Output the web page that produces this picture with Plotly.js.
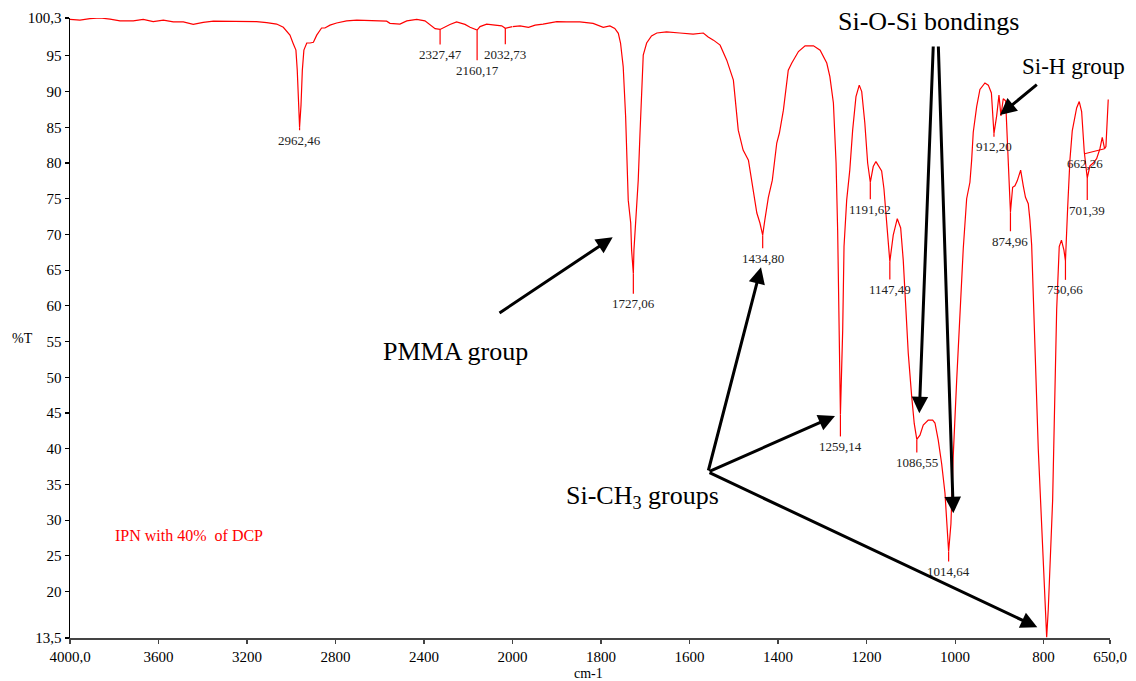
<!DOCTYPE html>
<html>
<head>
<meta charset="utf-8">
<script src="https://cdn.plot.ly/plotly-3.0.1.min.js"></script>
<style>
  html, body { margin: 0; padding: 0; background: #fff; }
  #chart { width: 1136px; height: 681px; }
</style>
</head>
<body>
<div id="chart"></div>
<script>
// FTIR transmittance spectrum: wavenumber (cm-1, descending) and %T
const wavenumber = [
  4000, 3955, 3910, 3864, 3819, 3774, 3714, 3669, 3624, 3578, 3533, 3488, 3443, 3398, 3352, 3307,
  3262, 3217, 3157, 3111, 3066, 3036, 3006, 2991, 2979, 2973, 2967, 2962.46, 2956, 2950, 2943, 2930,
  2915, 2900, 2885, 2863, 2848, 2825, 2795, 2750, 2704, 2659, 2614, 2569, 2554, 2509, 2478, 2433,
  2396, 2373, 2350, 2327.47, 2305, 2283, 2253, 2215, 2192, 2160.17, 2147, 2117, 2079, 2049, 2032.73, 2004,
  2000, 1983, 1964, 1949, 1931, 1915, 1900, 1878, 1848, 1818, 1795, 1780, 1769, 1761, 1756, 1750,
  1744.5, 1738.6, 1733, 1731, 1727.06, 1725.7, 1721, 1716, 1712, 1704.7, 1697, 1686, 1674, 1652, 1622, 1592,
  1569, 1558, 1546, 1531, 1516, 1501, 1490, 1479, 1467, 1460, 1448, 1441, 1437, 1434.80, 1430, 1422,
  1413, 1403, 1397, 1388, 1377, 1369, 1354, 1339, 1320, 1305, 1290, 1283, 1275, 1269, 1265.4, 1262.5,
  1259.14, 1254, 1251, 1245, 1238, 1231.5, 1224, 1216.6, 1211, 1204, 1197.6, 1191.62, 1185, 1178.9, 1166, 1160.8,
  1154.7, 1147.49, 1139.8, 1130.7, 1123, 1117.2, 1111.1, 1105.9, 1098.2, 1092.3, 1086.55, 1079.4, 1072, 1060.7, 1050.7, 1045.5,
  1038.1, 1030.4, 1022.9, 1016.8, 1014.64, 1009.4, 1004.2, 996.5, 989.1, 981.6, 973.9, 966.5, 962.6, 959, 951.3, 943.9,
  932.6, 925, 918, 915, 912.20, 906.1, 900.9, 896.4, 891.2, 885.8, 881.3, 878.3, 874.96, 870, 864.8, 859.6,
  851.9, 846, 841, 834.7, 830.9, 827, 823.4, 819.6, 812.1, 806, 800.8, 797, 793.1, 789.5, 785.7, 779.6,
  776, 773.3, 770.5, 764.7, 759.7, 754.1, 750.66, 745.7, 740.5, 735.3, 725.4, 719.5, 714.1, 708.2, 701.39, 695.3,
  687.9, 680.2, 672.7, 667.5, 662.26, 659.2, 654
];
const transmittance = [
  100.1, 100.0, 100.2, 100.3, 100.15, 99.9, 99.9, 100.1, 99.8, 100.0, 99.75, 99.75, 99.4, 99.7, 99.85, 99.85,
  99.75, 99.8, 99.8, 99.65, 99.45, 99.0, 97.9, 96.7, 95.8, 93.0, 88.5, 85.0, 88.1, 93.0, 95.8, 96.8,
  96.8, 96.9, 97.9, 98.9, 98.9, 99.3, 99.6, 99.9, 100.0, 99.95, 100.0, 99.85, 99.55, 99.45, 99.9, 100.1,
  99.9, 99.3, 98.8, 98.7, 99.1, 99.4, 99.75, 99.4, 99.0, 98.6, 99.1, 99.45, 99.3, 99.2, 98.85, 99.1,
  99.1, 99.2, 99.0, 99.3, 99.45, 99.65, 99.8, 99.75, 99.75, 99.55, 99.0, 99.2, 98.85, 98.15, 96.8, 93.5,
  86.5, 74.8, 71.6, 67.8, 64.5, 67.8, 73.0, 77.6, 84.2, 95.1, 96.8, 97.8, 98.2, 98.35, 98.2, 98.05,
  98.2, 97.65, 97.2, 96.5, 94.4, 91.6, 84.6, 81.8, 80.4, 77.6, 73.0, 71.6, 70.6, 69.9, 72.0, 75.2,
  77.6, 82.8, 84.2, 87.4, 93.0, 94.0, 95.6, 96.4, 96.4, 95.8, 94.0, 92.1, 88.4, 80.0, 70.6, 56.6,
  44.8, 56.6, 68.3, 74.8, 79.0, 84.6, 89.3, 90.9, 90.0, 85.6, 80.0, 77.3, 79.5, 80.2, 78.9, 76.4,
  71.9, 66.2, 69.9, 72.2, 70.9, 66.4, 59.4, 53.4, 47.4, 43.5, 41.3, 41.9, 43.3, 44.0, 44.0, 43.6,
  41.2, 37.9, 33.8, 28.2, 25.6, 29.5, 39.0, 49.5, 59.0, 68.0, 75.0, 77.3, 80.4, 84.3, 87.9, 90.3,
  91.2, 90.9, 89.8, 87.5, 84.1, 86.6, 89.5, 86.6, 89.0, 88.7, 81.5, 77.3, 73.1, 76.6, 76.8, 77.5,
  79.0, 76.8, 75.2, 74.3, 72.0, 68.5, 61.3, 52.7, 40.0, 31.5, 24.4, 18.5, 13.6, 17.5, 24.4, 32.8,
  43.5, 51.5, 59.5, 68.3, 69.2, 67.8, 66.3, 73.7, 80.5, 84.5, 87.7, 88.6, 87.2, 81.6, 77.9, 79.6,
  80.0, 80.6, 82.0, 83.6, 82.0, 82.3, 88.9
];

// Labelled absorption peaks (their %T is taken from the spectrum itself)
const peakWavenumber = [2962.46, 2327.47, 2160.17, 2032.73, 1727.06, 1434.80, 1259.14, 1191.62,
                        1147.49, 1086.55, 1014.64, 912.20, 874.96, 750.66, 701.39, 662.26];
const peakLabels = ['2962,46', '2327,47', '2160,17', '2032,73', '1727,06', '1434,80', '1259,14', '1191,62',
                    '1147,49', '1086,55', '1014,64', '912,20', '874,96', '750,66', '701,39', '662,26'];

// Axis ticks
const yTickValues = [13.5, 20, 25, 30, 35, 40, 45, 50, 55, 60, 65, 70, 75, 80, 85, 90, 95, 100.3];
const yTickLabels = ['13,5', '20', '25', '30', '35', '40', '45', '50', '55', '60', '65', '70', '75', '80', '85', '90', '95', '100,3'];
const xTickValuesHigh = [4000, 3600, 3200, 2800, 2400, 2000];
const xTickLabelsHigh = ['4000,0', '3600', '3200', '2800', '2400', '2000'];
const xTickValuesLow = [1800, 1600, 1400, 1200, 1000, 800, 650];
const xTickLabelsLow = ['1800', '1600', '1400', '1200', '1000', '800', '650,0'];

// The wavenumber axis changes scale at 2000 cm-1 (twice as expanded below it)
const SCALE_BREAK = 2000;

// ---- layout geometry (pixels) ----
const W = 1136, H = 681;
const M = { l: 70, r: 26, t: 18, b: 43 };
const PW = W - M.l - M.r, PH = H - M.t - M.b;
const BREAK_FRAC = 2000 / (2000 + 2 * 1350);
const px = x => (x - M.l) / PW;          // page x -> paper
const py = y => (H - M.b - y) / PH;      // page y -> paper

const SERIF = 'Liberation Serif, Times New Roman, serif';
const RED = '#ff0000';

// ---- spectrum traces, one per scale segment ----
const hiX = [], hiY = [], loX = [], loY = [];
wavenumber.forEach((w, i) => {
  if (w >= SCALE_BREAK) { hiX.push(w); hiY.push(transmittance[i]); }
  if (w <= SCALE_BREAK) { loX.push(w); loY.push(transmittance[i]); }
});
const lineStyle = { color: RED, width: 1.2 };
const traces = [
  { x: hiX, y: hiY, xaxis: 'x', yaxis: 'y', type: 'scatter', mode: 'lines', line: lineStyle, hoverinfo: 'x+y' },
  { x: loX, y: loY, xaxis: 'x2', yaxis: 'y', type: 'scatter', mode: 'lines', line: lineStyle, hoverinfo: 'x+y' }
];

// ---- peak markers: short red leader below each peak, value printed underneath ----
// leader end offsets in pixels (dx right, dy down)
const leaderDx = [0, 0, 0, 0, 0, 0, 0, 0, 0, 0, 0, 0, 0, 0, 0, -20];
const leaderDy = [3, 15, 30, 16, 20, 13, 22, 17, 18, 13, 10, 3, 19, 19, 22, 5];

const shapes = [];
const annotations = [];
peakWavenumber.forEach((w, i) => {
  const t = transmittance[wavenumber.indexOf(w)];
  const xr = w >= SCALE_BREAK ? 'x' : 'x2';
  shapes.push({
    type: 'line', xref: xr, yref: 'y',
    xsizemode: 'pixel', xanchor: w, x0: 0, x1: leaderDx[i],
    ysizemode: 'pixel', yanchor: t, y0: 0, y1: -leaderDy[i],
    line: { color: RED, width: 1.2 }
  });
  annotations.push({
    xref: xr, yref: 'y', x: w, y: t,
    xshift: leaderDx[i], yshift: -(leaderDy[i] + 10),
    xanchor: 'center', yanchor: 'middle', showarrow: false,
    text: peakLabels[i], font: { family: SERIF, size: 13, color: '#222' }
  });
});

// ---- band assignments ----
function label(text, x, y, size, color, anchor) {
  annotations.push({
    xref: 'paper', yref: 'paper', x: px(x), y: py(y),
    xanchor: anchor || 'center', yanchor: 'middle', showarrow: false,
    text: text, font: { family: SERIF, size: size, color: color || '#000' }
  });
}
// thick black arrow from a label towards a band (head at the first point)
function arrow(headX, headY, tailX, tailY) {
  annotations.push({
    xref: 'paper', yref: 'paper', x: px(headX), y: py(headY),
    axref: 'pixel', ayref: 'pixel', ax: tailX - headX, ay: tailY - headY,
    text: '', showarrow: true, arrowhead: 2, arrowsize: 1.1, arrowwidth: 3,
    arrowcolor: '#000', standoff: 0, startstandoff: 0
  });
}

label('PMMA group', 455, 351, 26);
arrow(612.7, 237.3, 498, 314);

label('Si-CH<sub>3</sub> groups', 642, 497, 26);
arrow(761, 267.3, 708, 472);
arrow(835, 416, 708, 472);
arrow(1037.3, 627.3, 708, 472);

label('Si-O-Si bondings', 928, 21, 26);
arrow(919.3, 413.3, 933.3, 45);
arrow(953.3, 513.3, 938.3, 45);

label('Si-H group', 1073, 67, 23);
arrow(1000, 115, 1038.3, 83.3);

label('IPN with 40%&nbsp; of DCP', 113, 535, 16, RED, 'left');
label('%T', 22, 338, 14);
label('cm-1', 588, 673, 14);

// ---- axes ----
const tickFont = { family: SERIF, size: 15, color: '#000' };
const xCommon = {
  showgrid: false, zeroline: false, showline: true, linecolor: '#444', linewidth: 1.5,
  ticks: 'outside', ticklen: 4, tickwidth: 1.2, tickcolor: '#444', tickfont: tickFont,
  tickmode: 'array', anchor: 'y', fixedrange: true
};

const layout = {
  width: W, height: H,
  margin: M,
  font: { family: SERIF },
  paper_bgcolor: '#fff', plot_bgcolor: '#fff',
  showlegend: false,
  xaxis: Object.assign({}, xCommon, {
    domain: [0, BREAK_FRAC], range: [4000, SCALE_BREAK], autorange: false,
    tickvals: xTickValuesHigh, ticktext: xTickLabelsHigh
  }),
  xaxis2: Object.assign({}, xCommon, {
    domain: [BREAK_FRAC, 1], range: [SCALE_BREAK, 650], autorange: false,
    tickvals: xTickValuesLow, ticktext: xTickLabelsLow
  }),
  yaxis: {
    range: [13.5, 100.3], autorange: false,
    showgrid: false, zeroline: false, showline: true, linecolor: '#000', linewidth: 1.5,
    ticks: 'outside', ticklen: 4, tickwidth: 1.2, tickcolor: '#000', tickfont: tickFont,
    tickmode: 'array', tickvals: yTickValues, ticktext: yTickLabels, fixedrange: true
  },
  shapes: shapes,
  annotations: annotations
};

Plotly.newPlot('chart', traces, layout, { displayModeBar: false, staticPlot: true });
</script>
</body>
</html>
